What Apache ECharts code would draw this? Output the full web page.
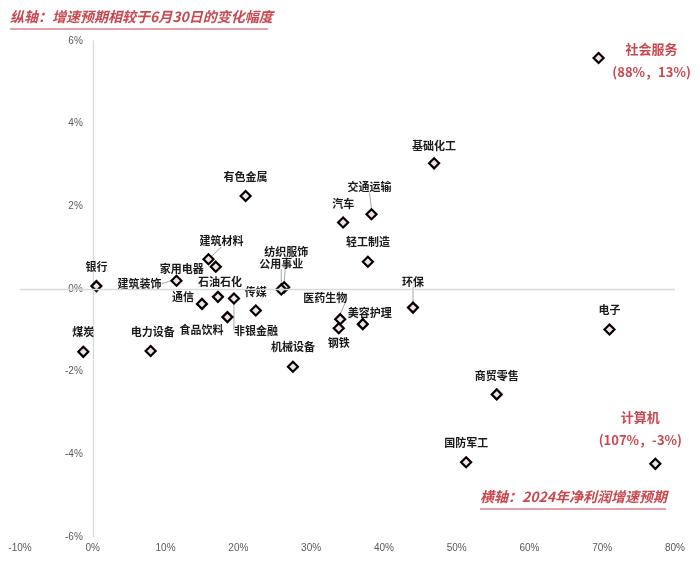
<!DOCTYPE html>
<html>
<head>
<meta charset="utf-8">
<script src="https://cdn.jsdelivr.net/npm/echarts@6/dist/echarts.min.js"></script>
<style>
html,body{margin:0;padding:0;background:#fff;}
#c{width:700px;height:563px;}
</style>
</head>
<body>
<div id="c"></div>
<script>
// ---- data ----
const industries = ['社会服务','基础化工','有色金属','交通运输','汽车','轻工制造','纺织服饰','公用事业','建筑材料','家用电器','建筑装饰','银行','煤炭','电力设备','石油石化','非银金融','传媒','通信','食品饮料','机械设备','医药生物','钢铁','美容护理','环保','电子','商贸零售','国防军工','计算机'];
// x: 2024 net profit growth forecast (%), plotted position
const growth2024 = [69.5,46.9,21.0,38.3,34.4,37.8,26.3,25.9,15.9,16.9,11.5,0.5,-1.3,7.95,17.2,19.4,22.4,15.0,18.5,27.5,34.0,33.8,37.1,44.0,71.0,55.5,51.3,77.3];
// y: change vs. June 30 forecast (%)
const changeVsJun30 = [5.59,3.04,2.25,1.81,1.61,0.66,0.04,-0.01,0.72,0.54,0.20,0.07,-1.52,-1.50,-0.19,-0.23,-0.52,-0.36,-0.68,-1.88,-0.73,-0.95,-0.85,-0.45,-0.98,-2.55,-4.19,-4.23];
// actual values noted for off-scale points
const offScaleNotes = {'社会服务':'(88%，13%)','计算机':'(107%，-3%)'};
const xTicks = {min:-10,max:80,interval:10};
const yTicks = {min:-6,max:6,interval:2};
const yTitle = '纵轴：增速预期相较于6月30日的变化幅度';
const xTitle = '横轴：2024年净利润增速预期';

// ---- label placement (styling) ----
const labelOffsets = {
 '社会服务':[53,2.5],'基础化工':[0,-18],'有色金属':[0,-19],'交通运输':[-2,-27],'汽车':[0,-19],
 '轻工制造':[0,-20],'纺织服饰':[2,-36],'公用事业':[0,-26],'建筑材料':[13,-18],'家用电器':[-34,2],
 '建筑装饰':[-37,3],'银行':[0,-19],'煤炭':[0,-20],'电力设备':[2,-19],'石油石化':[2,-15],
 '非银金融':[22,32],'传媒':[0,-19],'通信':[-19,-7],'食品饮料':[-26,13],'机械设备':[0,-20],
 '医药生物':[-15,-21],'钢铁':[0,15],'美容护理':[7,-11],'环保':[0,-26],'电子':[0,-20],
 '商贸零售':[0,-19],'国防军工':[0,-19],'计算机':[-15,-35]
};
const withLine = ['交通运输','公用事业','建筑材料','建筑装饰','非银金融','医药生物','环保','纺织服饰'];
const RED = '#C9474E';

const GRID_L = 20, GRID_R = 25;
const plotW = 700 - GRID_L - GRID_R;
const zeroShift = plotW * (0 - xTicks.min) / (xTicks.max - xTicks.min);

const data = industries.map((n,i)=>{
  const note = offScaleNotes[n];
  const item = {name:n, value:[growth2024[i], changeVsJun30[i]]};
  if (note) {
    item.label = {formatter: n + '\n' + note, color: RED, fontSize: 13, lineHeight: 23};
  }
  if (withLine.indexOf(n) >= 0) item.labelLine = {show:true};
  return item;
});

const chart = echarts.init(document.getElementById('c'), null, {renderer:'canvas'});
chart.setOption({
  animation:false,
  backgroundColor:'#fff',
  grid:{left:GRID_L,right:GRID_R,top:41,bottom:26,containLabel:false,outerBoundsMode:'none'},
  xAxis:{type:'value',min:xTicks.min,max:xTicks.max,interval:xTicks.interval,
    axisLine:{show:false,onZero:false},axisTick:{show:false},splitLine:{show:false},
    axisLabel:{formatter:'{value}%',color:'#595959',fontSize:10,fontFamily:'Liberation Sans',margin:6}},
  yAxis:{type:'value',min:yTicks.min,max:yTicks.max,interval:yTicks.interval,offset:-zeroShift,
    axisLine:{show:true,onZero:false,lineStyle:{color:'#D9D9D9',width:1.3}},axisTick:{show:false},splitLine:{show:false},
    axisLabel:{formatter:'{value}%',color:'#595959',fontSize:10,fontFamily:'Liberation Sans',margin:10}},
  graphic:[
    {type:'text',left:10,top:10,style:{text:yTitle,fill:RED,font:'italic bold 14px "Noto Sans CJK SC"'}},
    {type:'text',left:480,top:490,style:{text:xTitle,fill:RED,font:'italic bold 14px "Noto Sans CJK SC"'}},
    {type:'line',shape:{x1:10,y1:29,x2:268,y2:29},style:{stroke:RED,lineWidth:1}},
    {type:'line',shape:{x1:480,y1:509,x2:666,y2:509},style:{stroke:RED,lineWidth:1}}
  ],
  series:[{
    type:'scatter',
    symbol:'diamond',symbolSize:10,
    itemStyle:{color:'#F4E1E0',borderColor:'#000',borderWidth:2.2,opacity:1},
    data:data,
    label:{show:true,position:'inside',formatter:'{b}',color:'#1a1a1a',fontSize:11,fontWeight:'bold',
      fontFamily:'"Noto Sans CJK SC"'},
    labelLine:{show:false,lineStyle:{color:'#A6A6A6',width:1}},
    labelLayout:function(p){
      const o = labelOffsets[industries[p.dataIndex]] || [0,-19];
      return {dx:o[0],dy:o[1]};
    },
    markLine:{silent:true,symbol:['none','none'],label:{show:false},
      lineStyle:{color:'#D9D9D9',width:1.3,type:'solid'},data:[{yAxis:0}]},
    z:3
  }]
});
</script>
</body>
</html>
